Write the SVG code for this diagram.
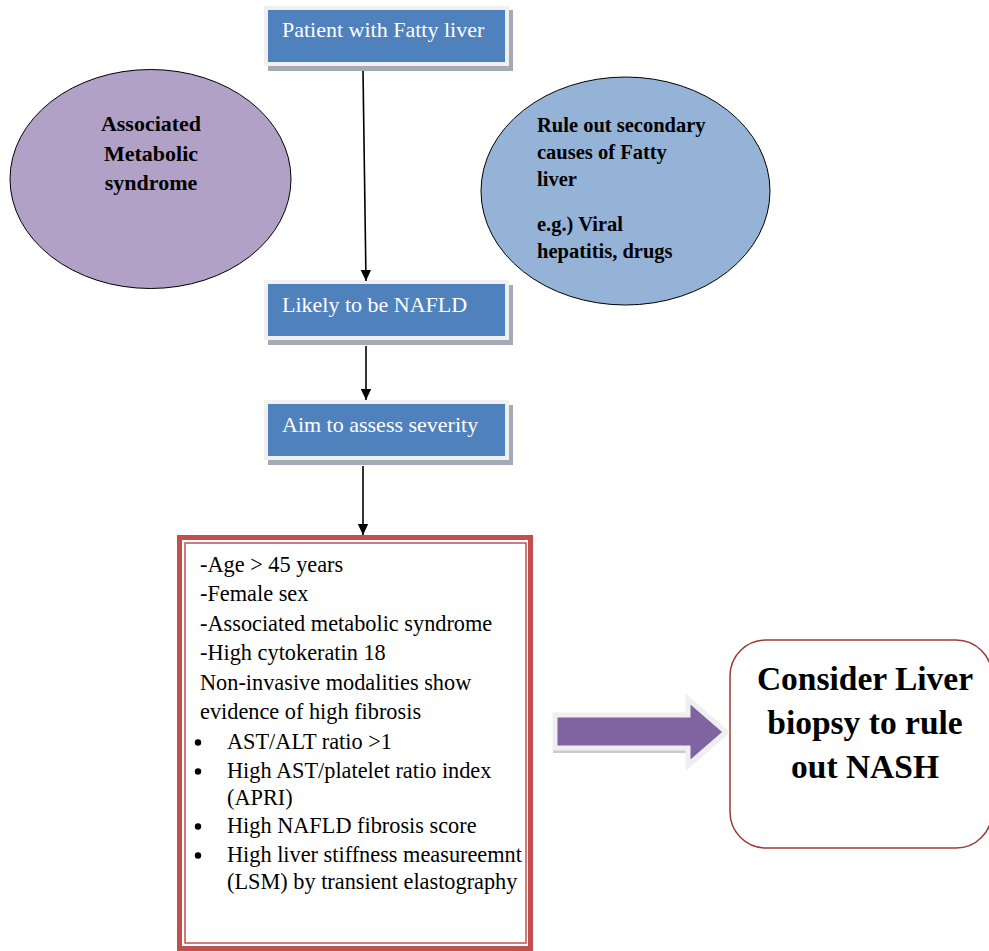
<svg xmlns="http://www.w3.org/2000/svg" width="989" height="951" viewBox="0 0 989 951">
<style>
text { font-family: "Liberation Serif", "Times New Roman", serif; }
.bx-shadow { fill: #a3abb6; }
.bx-border { fill: #f0f0f0; }
.bx-fill { fill: #4f81bd; }
.bx-text { fill: #ffffff; font-size: 22px; }
.ell-text { fill: #000000; font-weight: bold; }
.body { fill: #000000; font-size: 22.3px; }
.conn { stroke: #000000; stroke-width: 1.6; fill: none; }
</style>
<defs>
<marker id="ah" markerUnits="userSpaceOnUse" markerWidth="12" markerHeight="12" viewBox="0 0 12 12" refX="11" refY="6" orient="auto">
<path d="M0,0.8 L11,6 L0,11.2 Z" fill="#000000"/>
</marker>
</defs>
<rect width="989" height="951" fill="#ffffff"/>

<g id="ellipse-metabolic">
<ellipse cx="150.5" cy="179" rx="140.5" ry="109.5" fill="#b2a1c7" stroke="#000000" stroke-width="1"/>
<text class="ell-text" font-size="22" text-anchor="middle"><tspan x="151" y="131">Associated</tspan><tspan x="151" y="161">Metabolic</tspan><tspan x="151" y="190">syndrome</tspan></text>
</g>

<g id="ellipse-secondary">
<ellipse cx="625.5" cy="191" rx="144.5" ry="114" fill="#95b3d7" stroke="#000000" stroke-width="1"/>
<text class="ell-text" font-size="20.5"><tspan x="537" y="132">Rule out secondary</tspan><tspan x="537" y="159">causes of Fatty</tspan><tspan x="537" y="186">liver</tspan><tspan x="537" y="231">e.g.) Viral</tspan><tspan x="537" y="258">hepatitis, drugs</tspan></text>
</g>

<g id="box-patient">
<rect class="bx-shadow" x="268" y="10" width="245" height="61"/>
<rect class="bx-border" x="264" y="6" width="245" height="60"/>
<rect class="bx-fill" x="268" y="10" width="237" height="52"/>
<text class="bx-text" x="282" y="37">Patient with Fatty liver</text>
</g>

<g id="box-nafld">
<rect class="bx-shadow" x="268" y="285" width="245" height="60"/>
<rect class="bx-border" x="264" y="280" width="245" height="60"/>
<rect class="bx-fill" x="268" y="284" width="237" height="52"/>
<text class="bx-text" x="282" y="312">Likely to be NAFLD</text>
</g>

<g id="box-severity">
<rect class="bx-shadow" x="268" y="405" width="245" height="60"/>
<rect class="bx-border" x="264" y="400" width="245" height="60"/>
<rect class="bx-fill" x="268" y="404" width="237" height="52"/>
<text class="bx-text" x="282" y="432">Aim to assess severity</text>
</g>

<g id="box-criteria">
<rect x="179.5" y="537.5" width="351" height="411" fill="#ffffff" stroke="#c0504d" stroke-width="5"/>
<rect x="185" y="543" width="341" height="400" fill="none" stroke="#c0504d" stroke-width="1.5"/>
<text class="body"><tspan x="200" y="572">-Age &gt; 45 years</tspan><tspan x="200" y="601">-Female sex</tspan><tspan x="200" y="631">-Associated metabolic syndrome</tspan><tspan x="200" y="660">-High cytokeratin 18</tspan><tspan x="200" y="690">Non-invasive modalities show</tspan><tspan x="200" y="719">evidence of high fibrosis</tspan></text>
<g fill="#000000">
<circle cx="198" cy="742.5" r="3.2"/>
<circle cx="198" cy="771.5" r="3.2"/>
<circle cx="198" cy="826.5" r="3.2"/>
<circle cx="198" cy="855.5" r="3.2"/>
</g>
<text class="body"><tspan x="227" y="749">AST/ALT ratio &gt;1</tspan><tspan x="227" y="778">High AST/platelet ratio index</tspan><tspan x="227" y="805">(APRI)</tspan><tspan x="227" y="833">High NAFLD fibrosis score</tspan><tspan x="227" y="862">High liver stiffness measureemnt</tspan><tspan x="227" y="889">(LSM) by transient elastography</tspan></text>
</g>

<g id="box-biopsy">
<rect x="730" y="640" width="262" height="208" rx="36" ry="36" fill="#ffffff" stroke="#9b3b36" stroke-width="1.5"/>
<text class="ell-text" font-size="33.5" text-anchor="middle"><tspan x="865" y="690">Consider Liver</tspan><tspan x="865" y="734">biopsy to rule</tspan><tspan x="865" y="778">out NASH</tspan></text>
</g>

<g id="connectors">
<line class="conn" x1="363" y1="71" x2="366" y2="281" marker-end="url(#ah)"/>
<line class="conn" x1="366" y1="346" x2="366" y2="400" marker-end="url(#ah)"/>
<line class="conn" x1="363" y1="466" x2="363" y2="535" marker-end="url(#ah)"/>
<g id="block-arrow">
<path d="M553,720 L686,720 L686,704 L724,737 L686,770 L686,753 L553,753 Z" fill="#9e9e9e" opacity="0.55"/>
<path d="M555,715 L688,715 L688,699 L726,732 L688,765 L688,748 L555,748 Z" fill="#8064a2" stroke="#efefef" stroke-width="5" stroke-linejoin="miter"/>
</g>
</g>
</svg>
